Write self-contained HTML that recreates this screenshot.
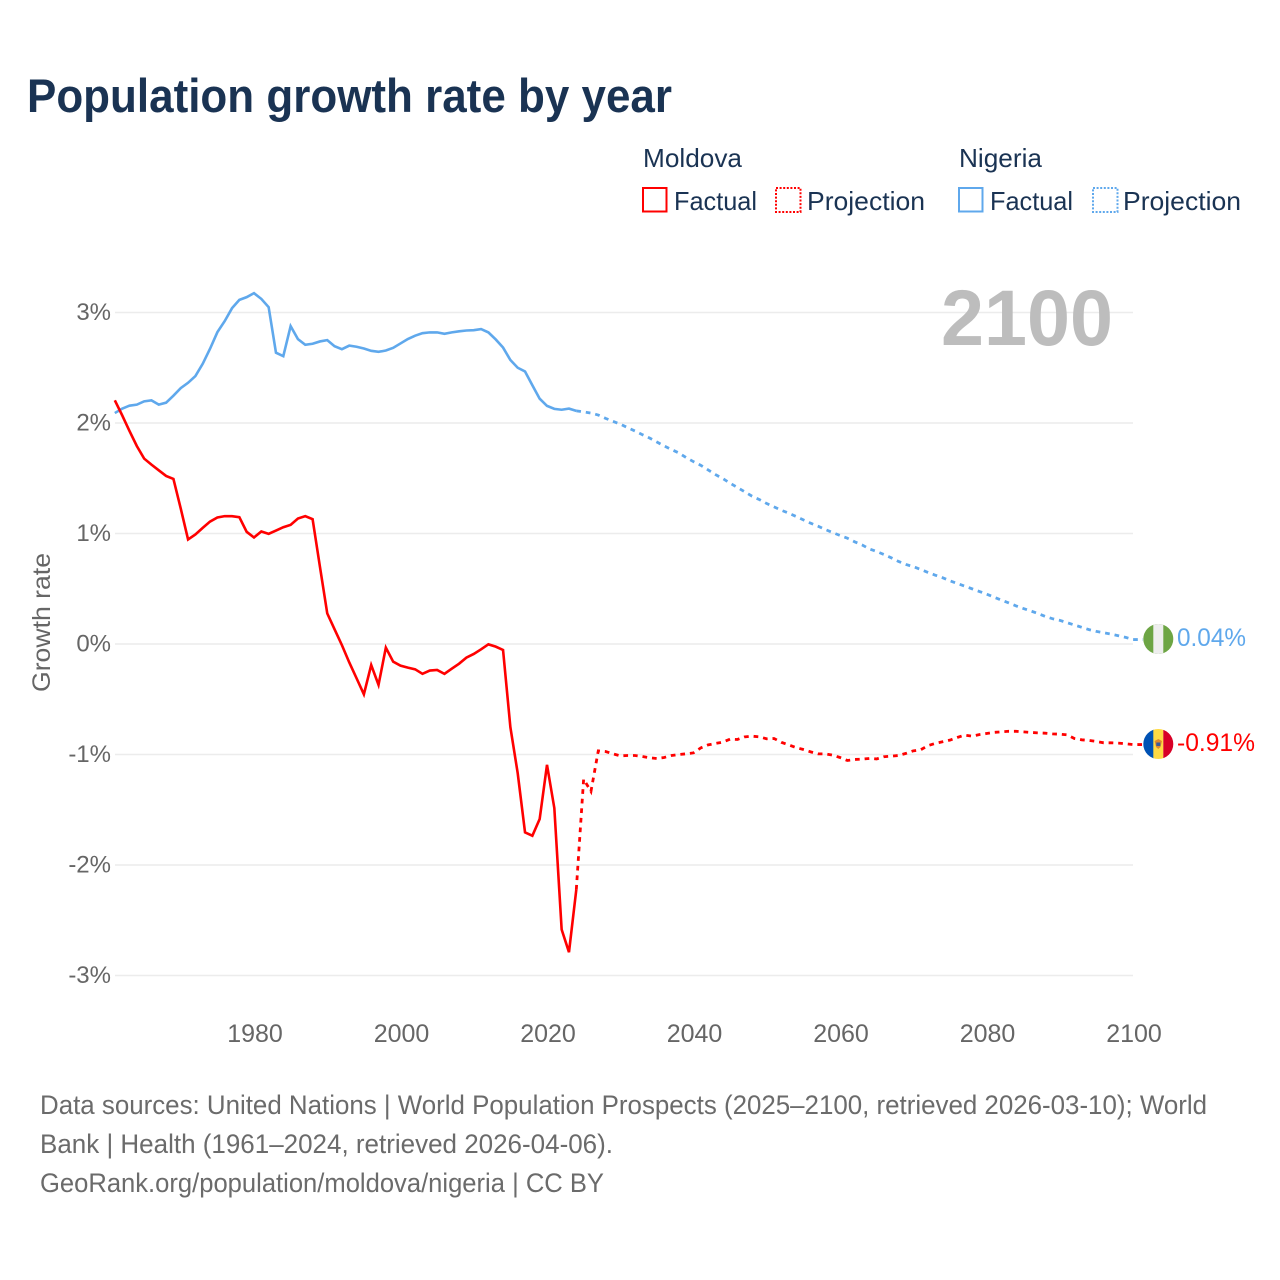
<!DOCTYPE html>
<html lang="en">
<head>
<meta charset="utf-8">
<title>Population growth rate by year</title>
<style>
html,body{margin:0;padding:0;background:#fff;width:1280px;height:1280px;overflow:hidden}
svg{display:block}
text{font-family:"Liberation Sans",sans-serif}
</style>
</head>
<body>
<svg id="chart" xmlns="http://www.w3.org/2000/svg" width="1280" height="1280" viewBox="0 0 1280 1280">
  <defs>
    <clipPath id="clip-nigeria"><circle cx="1158.3" cy="639" r="15"/></clipPath>
    <clipPath id="clip-moldova"><circle cx="1158.3" cy="744" r="15"/></clipPath>
  </defs>
  <rect x="0" y="0" width="1280" height="1280" fill="#fff"/>

  <text x="27" y="112" font-size="47" font-weight="700" fill="#1a3353" textLength="645" lengthAdjust="spacingAndGlyphs">Population growth rate by year</text>

  <g font-size="26" fill="#1a3353">
    <text x="643" y="167" textLength="99" lengthAdjust="spacingAndGlyphs">Moldova</text>
    <rect x="643" y="188" width="23.5" height="23.5" fill="#fff" stroke="#ff0000" stroke-width="2"/>
    <text x="674" y="210" textLength="83" lengthAdjust="spacingAndGlyphs">Factual</text>
    <rect x="776" y="188" width="24.5" height="24" fill="#fff" stroke="#ff0000" stroke-width="2" stroke-dasharray="2 1.6"/>
    <text x="807" y="210" textLength="118" lengthAdjust="spacingAndGlyphs">Projection</text>
    <text x="959" y="167" textLength="83" lengthAdjust="spacingAndGlyphs">Nigeria</text>
    <rect x="959" y="188" width="23.5" height="23.5" fill="#fff" stroke="#5fa8ec" stroke-width="2"/>
    <text x="990" y="210" textLength="83" lengthAdjust="spacingAndGlyphs">Factual</text>
    <rect x="1093" y="188" width="24.5" height="24" fill="#fff" stroke="#5fa8ec" stroke-width="2" stroke-dasharray="2 1.6"/>
    <text x="1123" y="210" textLength="118" lengthAdjust="spacingAndGlyphs">Projection</text>
  </g>

  <g id="grid"></g>
  <g id="y-ticks" font-size="24" fill="#666"></g>
  <g id="x-ticks" font-size="25" fill="#666"></g>

  <text transform="translate(50,692) rotate(-90)" font-size="25" fill="#666" textLength="139" lengthAdjust="spacingAndGlyphs">Growth rate</text>

  <text x="1113" y="345" text-anchor="end" font-size="79" font-weight="700" fill="#bdbdbd" textLength="172" lengthAdjust="spacingAndGlyphs">2100</text>

  <g id="series"></g>

  <g id="flag-nigeria" clip-path="url(#clip-nigeria)">
    <rect x="1143" y="624" width="31" height="30" fill="#6da544"/>
    <rect x="1153.3" y="624" width="10" height="30" fill="#eeeeee"/>
  </g>
  <g id="flag-moldova" clip-path="url(#clip-moldova)">
    <rect x="1143" y="729" width="11" height="30" fill="#0052b4"/>
    <rect x="1153.3" y="729" width="10" height="30" fill="#ffda44"/>
    <rect x="1163.3" y="729" width="11" height="30" fill="#d80027"/>
    <path d="M1154.6 741 L1158.3 739 L1162 741 L1160.5 747 L1158.3 749 L1156 747 Z" fill="#e08a2e"/>
    <rect x="1156.3" y="742.5" width="4" height="3.5" fill="#3b5a9a"/>
  </g>

  <text id="label-nigeria" x="1177" y="646" font-size="25" fill="#5fa8ec" textLength="69" lengthAdjust="spacingAndGlyphs"></text>
  <text id="label-moldova" x="1177" y="751" font-size="25" fill="#ff0000" textLength="78" lengthAdjust="spacingAndGlyphs"></text>

  <g font-size="27" fill="#6b6b6b">
    <text x="40" y="1114" textLength="1167" lengthAdjust="spacingAndGlyphs">Data sources: United Nations | World Population Prospects (2025–2100, retrieved 2026-03-10); World</text>
    <text x="40" y="1153" textLength="573" lengthAdjust="spacingAndGlyphs">Bank | Health (1961–2024, retrieved 2026-04-06).</text>
    <text x="40" y="1192" textLength="564" lengthAdjust="spacingAndGlyphs">GeoRank.org/population/moldova/nigeria | CC BY</text>
  </g>
</svg>
<script>
var factualStartYear = 1961;
var projectionStartYear = 2024;
var xTickYears = [1980, 2000, 2020, 2040, 2060, 2080, 2100];
var yTickValues = [3, 2, 1, 0, -1, -2, -3];
var yTickLabels = ['3%', '2%', '1%', '0%', '-1%', '-2%', '-3%'];

var moldovaFactual = [
  2.205,2.07,1.928,1.792,1.678,1.623,1.572,1.521,1.494,1.226,
  0.946,0.991,1.051,1.108,1.145,1.157,1.157,1.148,1.015,0.964,
  1.018,0.997,1.027,1.057,1.078,1.136,1.157,1.13,0.70,0.277,
  0.133,-0.01,-0.166,-0.31,-0.455,-0.19,-0.37,-0.033,-0.16,-0.196,
  -0.214,-0.229,-0.27,-0.24,-0.235,-0.27,-0.223,-0.178,-0.123,-0.09,
  -0.048,-0.003,-0.024,-0.054,-0.753,-1.169,-1.705,-1.735,-1.584,-1.093,
  -1.485,-2.584,-2.789,-2.223
];
var moldovaProjection = [
  -2.223,-1.223,-1.334,-0.967,-0.973,-0.994,-1.012,
  -1.009,-1.009,-1.018,-1.03,-1.036,-1.027,-1.009,-1.0,-0.994,-0.985,
  -0.94,-0.913,-0.90,-0.888,-0.861,-0.864,-0.84,-0.834,-0.84,-0.858,
  -0.855,-0.89,-0.913,-0.937,-0.955,-0.976,-0.994,-0.994,-1.006,-1.027,
  -1.054,-1.045,-1.042,-1.036,-1.04,-1.02,-1.015,-1.009,-0.99,-0.967,
  -0.958,-0.92,-0.90,-0.885,-0.87,-0.846,-0.825,-0.834,-0.82,-0.81,
  -0.80,-0.795,-0.79,-0.79,-0.795,-0.80,-0.804,-0.807,-0.813,-0.816,
  -0.822,-0.855,-0.867,-0.873,-0.882,-0.894,-0.894,-0.897,-0.903,-0.91
];
var nigeriaFactual = [
  2.09,2.13,2.157,2.166,2.196,2.205,2.166,2.184,2.247,2.316,
  2.364,2.425,2.536,2.672,2.822,2.922,3.039,3.114,3.139,3.175,
  3.123,3.048,2.636,2.605,2.877,2.759,2.708,2.717,2.738,2.75,
  2.695,2.668,2.70,2.69,2.674,2.653,2.644,2.656,2.68,2.72,
  2.76,2.79,2.813,2.82,2.82,2.807,2.82,2.83,2.837,2.84,
  2.85,2.82,2.756,2.683,2.57,2.50,2.466,2.342,2.22,2.155,
  2.128,2.12,2.13,2.11
];
var nigeriaProjection = [
  2.11,2.10,2.09,2.072,2.042,2.015,1.99,
  1.958,1.928,1.895,1.864,1.828,1.792,1.76,1.729,1.687,1.65,
  1.617,1.575,1.533,1.497,1.455,1.416,1.377,1.337,1.307,1.271,
  1.241,1.21,1.184,1.154,1.123,1.093,1.066,1.036,1.009,0.982,
  0.958,0.925,0.897,0.861,0.837,0.81,0.78,0.747,0.72,0.70,
  0.675,0.648,0.623,0.60,0.572,0.548,0.524,0.50,0.476,0.452,
  0.425,0.398,0.373,0.346,0.322,0.30,0.277,0.25,0.229,0.214,
  0.193,0.172,0.151,0.13,0.114,0.102,0.09,0.075,0.06,0.04
];

var SVGNS = 'http://www.w3.org/2000/svg';
function xScale(year) { return 254 + (year - 1980) * 7.325; }
function yScale(value) { return 644 - value * 110.5; }

function make(tag, parent) {
  var el = document.createElementNS(SVGNS, tag);
  parent.appendChild(el);
  return el;
}

var gridGroup = document.getElementById('grid');
var yTickGroup = document.getElementById('y-ticks');
yTickValues.forEach(function (v, i) {
  var line = make('line', gridGroup);
  
  
  line.setAttribute('x1', 115);
  line.setAttribute('x2', 1133);
  line.setAttribute('y1', yScale(v));
  line.setAttribute('y2', yScale(v));
  line.setAttribute('stroke', '#ececec');
  line.setAttribute('stroke-width', 1.6);
  var label = make('text', yTickGroup);
  
  
  label.setAttribute('x', 111);
  label.setAttribute('y', yScale(v) + 7.5);
  label.setAttribute('text-anchor', 'end');
  label.textContent = yTickLabels[i];
});

var xTickGroup = document.getElementById('x-ticks');
xTickYears.forEach(function (year) {
  var label = make('text', xTickGroup);
  
  
  label.setAttribute('x', xScale(year) + 1);
  label.setAttribute('y', 1042);
  label.setAttribute('text-anchor', 'middle');
  label.textContent = String(year);
});

function linePath(values, startYear, tail) {
  var d = values.map(function (v, i) {
    return (i ? 'L' : 'M') + xScale(startYear + i).toFixed(2) + ' ' + yScale(v).toFixed(2);
  }).join(' ');
  if (tail) {
    var last = values[values.length - 1];
    d += ' L' + (xScale(startYear + values.length - 1) + tail).toFixed(2) + ' ' + yScale(last).toFixed(2);
  }
  return d;
}

var seriesGroup = document.getElementById('series');

var nigeriaLine = make('path', seriesGroup);


nigeriaLine.setAttribute('d', linePath(nigeriaFactual, factualStartYear, 0));
nigeriaLine.setAttribute('fill', 'none');
nigeriaLine.setAttribute('stroke', '#5fa8ec');
nigeriaLine.setAttribute('stroke-width', 2.6);
nigeriaLine.setAttribute('stroke-linejoin', 'miter');

var nigeriaDash = make('path', seriesGroup);


nigeriaDash.setAttribute('d', linePath(nigeriaProjection, projectionStartYear, 10));
nigeriaDash.setAttribute('fill', 'none');
nigeriaDash.setAttribute('stroke', '#5fa8ec');
nigeriaDash.setAttribute('stroke-width', 2.8);
nigeriaDash.setAttribute('stroke-dasharray', '4.7 4.9');

var moldovaLine = make('path', seriesGroup);


moldovaLine.setAttribute('d', linePath(moldovaFactual, factualStartYear, 0));
moldovaLine.setAttribute('fill', 'none');
moldovaLine.setAttribute('stroke', '#ff0000');
moldovaLine.setAttribute('stroke-width', 2.6);
moldovaLine.setAttribute('stroke-linejoin', 'miter');

var moldovaDash = make('path', seriesGroup);


moldovaDash.setAttribute('d', linePath(moldovaProjection, projectionStartYear, 10));
moldovaDash.setAttribute('fill', 'none');
moldovaDash.setAttribute('stroke', '#ff0000');
moldovaDash.setAttribute('stroke-width', 2.8);
moldovaDash.setAttribute('stroke-dasharray', '4.7 4.9');

var nigeriaEnd = nigeriaProjection[nigeriaProjection.length - 1];
var moldovaEnd = moldovaProjection[moldovaProjection.length - 1];
document.getElementById('label-nigeria').textContent = nigeriaEnd.toFixed(2) + '%';
document.getElementById('label-moldova').textContent = moldovaEnd.toFixed(2) + '%';
</script>
</body>
</html>
